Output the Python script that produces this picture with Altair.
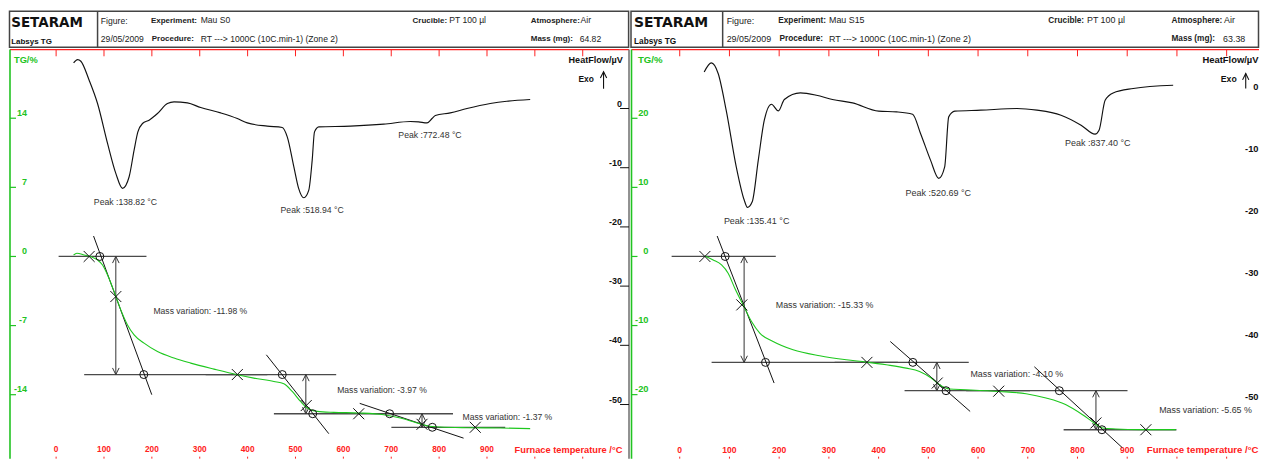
import altair as alt
import pandas as pd

# ---------------- axis tick values ----------------
TEMP_TICKS = [0, 100, 200, 300, 400, 500, 600, 700, 800, 900, 1000, 1100]
TEMP_LABELS = [0, 100, 200, 300, 400, 500, 600, 700, 800, 900]
HF_TICKS = [0, -10, -20, -30, -40, -50]
L_TG_TICKS = [14, 7, 0, -7, -14]
R_TG_TICKS = [20, 10, 0, -10, -20]

# ---------------- left panel : Mau S0 ----------------
L_DSC_T = [36.5, 44.8, 51.7, 69.0, 86.5, 107.4, 124.7, 138.7, 152.5, 162.9, 170.6, 180.4, 194.2,
           211.7, 232.5, 246.3, 274.2, 302.0, 343.7, 378.5, 399.4, 441.1, 472.4, 482.8, 496.6,
           506.4, 517.4, 527.8, 534.9, 539.7, 548.7, 614.8, 684.3, 739.9, 757.2, 774.8, 785.2,
           792.1, 823.4, 858.2, 906.8, 941.6, 990.2]
L_DSC_HF = [7.69, 8.26, 7.98, 4.77, 0.84, -5.90, -10.96, -13.49, -11.53, -7.03, -4.00, -2.53, -1.97,
            -0.84, 0.84, 1.11, 0.94, 0.17, -0.74, -1.69, -2.43, -2.98, -3.20, -4.79, -9.85,
            -13.44, -15.08, -13.78, -8.72, -3.95, -3.10, -2.98, -2.65, -2.19, -2.26, -2.43, -1.69,
            -1.18, -0.74, 0.00, 0.84, 1.23, 1.52]
L_TG_T = [36.5, 43.4, 58.6, 72.6, 86.5, 97.0, 107.4, 121.2, 135.1, 149.1, 162.9, 183.7, 211.7,
          246.3, 281.1, 329.7, 378.5, 413.1, 454.9, 475.7, 493.2, 510.5, 524.5, 545.4, 580.0,
          632.1, 684.3, 719.1, 753.9, 774.8, 802.5, 858.2, 927.6, 990.2]
L_TG_V = [0.15, 0.32, 0.15, -0.02, -0.35, -0.86, -1.87, -3.56, -5.41, -6.93, -7.94, -8.78, -9.63,
          -10.29, -10.80, -11.41, -11.98, -12.32, -12.66, -12.89, -13.67, -14.68, -15.35, -15.69, -15.79,
          -15.85, -16.03, -16.36, -16.87, -17.14, -17.27, -17.34, -17.37, -17.44]
L_BASE_T1 = [5.2, 58.6, 312.4, 454.9, 700.3]
L_BASE_T2 = [188.7, 441.1, 585.0, 829.0, 938.1]
L_BASE_G = [0.0, -11.96, -11.96, -15.93, -17.30]
L_TAN_T1 = [78.2, 439.1, 634.2]
L_TAN_G1 = [2.07, -9.96, -14.88]
L_TAN_T2 = [199.8, 569.6, 851.1]
L_TAN_G2 = [-14.0, -17.95, -18.40]
L_X_T = [69.0, 124.7, 378.5, 522.4, 632.1, 764.3, 875.5]
L_X_G = [0.0, -4.06, -11.96, -15.1, -15.93, -17.0, -17.30]
L_O_T = [91.3, 183.1, 472.4, 536.0, 696.7, 785.8]
L_O_G = [0.0, -11.96, -11.96, -15.93, -15.93, -17.30]
L_ARR_T = [124.7, 521.6, 764.3]
L_ARR_TOP = [0.0, -11.96, -15.93]
L_ARR_BOT = [-11.96, -15.93, -17.30]
L_MV_TEXT = ["Mass variation: -11.98 %", "Mass variation: -3.97 %", "Mass variation: -1.37 %"]
L_MV_T = [203.3, 587.1, 849.0]
L_MV_G = [-5.48, -13.5, -16.3]
L_PK_TEXT = ["Peak :138.82 °C", "Peak :518.94 °C", "Peak :772.48 °C"]
L_PK_T = [78.8, 468.8, 714.9]
L_PK_HF = [-15.75, -17.15, -4.5]

# ---------------- right panel : Mau S15 ----------------
R_DSC_T = [49.2, 63.7, 77.3, 93.4, 113.7, 129.7, 136.1, 145.8, 158.0, 170.1, 184.5, 198.4, 210.4,
           242.6, 274.9, 307.2, 347.6, 400.0, 436.1, 468.3, 484.3, 504.4, 520.9, 532.9, 541.0,
           553.2, 605.6, 678.1, 718.5, 766.9, 807.2, 835.3, 843.4, 855.6, 871.7, 912.1, 992.4]
R_DSC_HF = [3.27, 4.73, 3.02, -2.90, -12.05, -17.42, -18.60, -17.69, -10.97, -4.52, -1.94, -3.02, -1.18,
            -0.11, -0.48, -1.18, -1.73, -3.06, -3.18, -3.55, -6.66, -10.97, -13.92, -12.05, -3.98,
            -3.06, -2.90, -2.63, -2.90, -3.71, -5.32, -6.77, -6.13, -1.29, -0.11, 0.60, 1.13]
R_TG_T = [50.6, 67.3, 84.1, 97.4, 110.8, 127.5, 144.4, 161.0, 187.8, 227.9, 281.5, 335.1, 375.3,
          415.5, 455.6, 482.3, 505.8, 522.5, 542.6, 576.1, 643.0, 696.6, 736.7, 776.9, 810.2,
          833.7, 850.4, 877.3, 924.1, 997.8]
R_TG_V = [0.07, -0.51, -1.23, -2.43, -4.60, -7.01, -9.42, -11.10, -12.31, -13.51, -14.38, -14.96, -15.29,
          -15.68, -16.16, -16.65, -17.60, -18.57, -19.19, -19.29, -19.54, -19.87, -20.49, -21.46, -22.90,
          -24.10, -24.83, -24.97, -25.07, -25.07]
R_BASE_T1 = [-16.3, 64.1, 311.6, 452.2, 576.1, 772.1]
R_BASE_T2 = [193.2, 438.8, 581.3, 704.6, 900.6, 999.0]
R_BASE_G = [0.0, -15.33, -15.33, -19.43, -19.43, -25.08]
R_TAN_T1 = [75.3, 423.5, 713.3]
R_TAN_G1 = [2.96, -12.31, -15.97]
R_TAN_T2 = [189.8, 584.1, 890.0]
R_TAN_G2 = [-18.32, -22.43, -27.67]
R_X_T = [50.6, 124.9, 376.5, 517.9, 641.6, 837.1, 937.5]
R_X_G = [0.0, -7.01, -15.33, -18.32, -19.5, -24.1, -25.08]
R_O_T = [91.4, 172.5, 468.9, 535.6, 763.5, 849.2]
R_O_G = [0.0, -15.33, -15.33, -19.43, -19.43, -25.08]
R_ARR_T = [129.5, 517.1, 837.1]
R_ARR_TOP = [0.0, -15.33, -19.43]
R_ARR_BOT = [-15.33, -19.43, -25.08]
R_MV_TEXT = ["Mass variation: -15.33 %", "Mass variation: -4.10 %", "Mass variation: -5.65 %"]
R_MV_T = [193.2, 584.7, 964.3]
R_MV_G = [-7.01, -16.98, -22.18]
R_PK_TEXT = ["Peak :135.41 °C", "Peak :520.69 °C", "Peak :837.40 °C"]
R_PK_T = [88.8, 454.2, 774.9]
R_PK_HF = [-20.76, -16.24, -8.18]

FONT = "Liberation Sans"
GREEN = "#22c322"
CURVE_GREEN = "#1ec81e"
RED = "#ff2020"
UP = "M-1,2L0,0L1,2"
DOWN = "M-1,-2L0,0L1,-2"
XSHAPE = "M-1,-1L1,1M-1,1L1,-1"
H = 451


def one():
    return pd.DataFrame({"d": [0]})


def txt(s, x, y, size=8.7, bold=False, color="#222222", align="left", font=FONT):
    return alt.Chart(one()).mark_text(
        text=s, align=align, baseline="middle", fontSize=size,
        fontWeight="bold" if bold else "normal", font=font, color=color
    ).encode(x=alt.value(x), y=alt.value(y))


def vline(x, y1, y2, color, w=1.0):
    return alt.Chart(one()).mark_rule(color=color, strokeWidth=w).encode(
        x=alt.value(x), y=alt.value(y1), y2=alt.value(y2))


def hline(x1, x2, y, color, w=1.0):
    return alt.Chart(one()).mark_rule(color=color, strokeWidth=w).encode(
        x=alt.value(x1), x2=alt.value(x2), y=alt.value(y))


def panel(P):
    W = P["W"]
    k = P["k"]
    xs = alt.Scale(domain=P["xdom"], zero=False, nice=False)
    tgs = alt.Scale(domain=P["tgdom"], zero=False, nice=False)
    hfs = alt.Scale(domain=P["hfdom"], zero=False, nice=False)

    def X(f="T"):
        return alt.X(f + ":Q", scale=xs, axis=None)

    def YT(f="G"):
        return alt.Y(f + ":Q", scale=tgs, axis=None)

    L = []
    # ---- header ----
    bx = P["box"]
    L.append(alt.Chart(one()).mark_rect(fillOpacity=0, stroke="#444444", strokeWidth=1.5).encode(
        x=alt.value(bx[0]), x2=alt.value(bx[1]), y=alt.value(bx[2]), y2=alt.value(bx[3])))
    L.append(vline(P["div"], bx[2], bx[3], "#444444", 1.5))
    L.append(txt("SETARAM", P["hx"][0], 14.5, size=13.5 * k, bold=True, color="#111111", font="DejaVu Sans"))
    L.append(txt("Labsys TG", P["hx"][0], 33.5, size=8.0 * k, bold=True, color="#111111"))
    for s, x, y, b in P["htexts"]:
        L.append(txt(s, x, y, size=(8.0 if b else 8.6) * k, bold=b))

    # ---- frame / axes ----
    fr = P["frame"]
    L.append(hline(fr[0], fr[1], 41.3, RED, 1.2))
    tdf = pd.DataFrame({"T": P["ticks"]})
    L.append(alt.Chart(tdf).mark_rule(color=RED, strokeWidth=1).encode(
        x=X(), y=alt.value(41.3), y2=alt.value(48)))
    L.append(alt.Chart(tdf).mark_rule(color=RED, strokeWidth=1).encode(
        x=X(), y=alt.value(449), y2=alt.value(451)))
    ldf = pd.DataFrame({"T": TEMP_LABELS, "lab": [str(v) for v in TEMP_LABELS]})
    L.append(alt.Chart(ldf).mark_text(color=RED, fontWeight="bold", fontSize=8.3 * k, font=FONT,
                                      baseline="middle").encode(x=X(), y=alt.value(442), text="lab:N"))
    L.append(txt("Furnace temperature /°C", P["furn"], 442, size=9.3 * k, bold=True, color=RED, align="right"))

    # TG axis (green, left)
    L.append(vline(P["gx"], 41.3, H, GREEN, 1.6))
    gdf = pd.DataFrame({"G": P["tgticks"], "lab": [str(v) for v in P["tgticks"]]})
    L.append(alt.Chart(gdf).mark_rule(color=GREEN, strokeWidth=1.2).encode(
        y=YT(), x=alt.value(P["gx"]), x2=alt.value(P["gx"] + 6)))
    L.append(alt.Chart(gdf).mark_text(color=GREEN, fontWeight="bold", fontSize=9 * k, font=FONT,
                                      align="right", baseline="middle", dy=-5.5).encode(
        y=YT(), x=alt.value(P["tglab"]), text="lab:N"))
    L.append(txt("TG/%", P["tgtitle"], 52, size=9.3 * k, bold=True, color=GREEN))

    # heat-flow axis (right)
    if P["hfaxis"] is not None:
        L.append(vline(P["hfaxis"], 41.3, H, "#777777", 1.6))
    hdf = pd.DataFrame({"HF": HF_TICKS, "lab": [str(v) for v in HF_TICKS]})
    if P["hftick"] is not None:
        L.append(alt.Chart(hdf).mark_rule(color="#111111", strokeWidth=1).encode(
            y=alt.Y("HF:Q", scale=hfs, axis=None), x=alt.value(P["hftick"][0]), x2=alt.value(P["hftick"][1])))
    L.append(alt.Chart(hdf).mark_text(color="#111111", fontWeight="bold", fontSize=9 * k, font=FONT,
                                      align="right", baseline="middle", dy=-5).encode(
        y=alt.Y("HF:Q", scale=hfs, axis=None), x=alt.value(P["hflab"]), text="lab:N"))
    L.append(txt("HeatFlow/µV", P["hftitle"], 52, size=9.1 * k, bold=True, color="#111111", align="right"))
    L.append(txt("Exo", P["exo"], 71, size=8.4 * k, bold=True, color="#111111"))
    ax, ay1, ay2 = P["exoarrow"]
    L.append(vline(ax, ay1, ay2, "#111111", 1.1))
    L.append(alt.Chart(one()).mark_point(shape=UP, filled=False, size=40, color="#111111", strokeWidth=1.1,
                                         opacity=1).encode(x=alt.value(ax), y=alt.value(ay1)))

    # ---- DSC curve ----
    dsc = pd.DataFrame({"T": P["dsc_t"], "HF": P["dsc_hf"]})
    L.append(alt.Chart(dsc).mark_line(color="#111111", strokeWidth=1.15, interpolate="monotone").encode(
        x=X(), y=alt.Y("HF:Q", scale=hfs, axis=None)))
    pk = pd.DataFrame({"T": P["pk_t"], "HF": P["pk_hf"], "s": P["pk_text"]})
    L.append(alt.Chart(pk).mark_text(align="left", baseline="middle", fontSize=8.7 * k, font=FONT,
                                     color="#333333").encode(
        x=X(), y=alt.Y("HF:Q", scale=hfs, axis=None), text="s:N"))

    # ---- TG construction ----
    base = pd.DataFrame({"T": P["base_t1"], "T2": P["base_t2"], "G": P["base_g"]})
    L.append(alt.Chart(base).mark_rule(color="#4a4a4a", strokeWidth=1.3).encode(
        x=X(), x2="T2:Q", y=YT()))
    tan = pd.DataFrame({"T": P["tan_t1"], "G": P["tan_g1"], "T2": P["tan_t2"], "G2": P["tan_g2"]})
    L.append(alt.Chart(tan).mark_rule(color="#111111", strokeWidth=1).encode(
        x=X(), y=YT(), x2="T2:Q", y2="G2:Q"))
    arr = pd.DataFrame({"T": P["arr_t"], "G": P["arr_top"], "G2": P["arr_bot"]})
    L.append(alt.Chart(arr).mark_rule(color="#333333", strokeWidth=1).encode(
        x=X(), y=YT(), y2="G2:Q"))
    L.append(alt.Chart(arr).mark_point(shape=UP, filled=False, size=44, color="#333333", strokeWidth=1,
                                       opacity=1).encode(x=X(), y=YT()))
    L.append(alt.Chart(arr).mark_point(shape=DOWN, filled=False, size=44, color="#333333", strokeWidth=1,
                                       opacity=1).encode(x=X(), y=YT("G2")))
    # green TG curve
    tg = pd.DataFrame({"T": P["tg_t"], "G": P["tg_v"]})
    L.append(alt.Chart(tg).mark_line(color=CURVE_GREEN, strokeWidth=1.1, interpolate="monotone").encode(
        x=X(), y=YT()))
    xm = pd.DataFrame({"T": P["x_t"], "G": P["x_g"]})
    L.append(alt.Chart(xm).mark_point(shape=XSHAPE, filled=False, size=121, color="#111111", strokeWidth=1,
                                      opacity=1).encode(x=X(), y=YT()))
    om = pd.DataFrame({"T": P["o_t"], "G": P["o_g"]})
    L.append(alt.Chart(om).mark_point(shape="circle", filled=False, size=64, color="#111111", strokeWidth=1,
                                      opacity=1).encode(x=X(), y=YT()))
    mv = pd.DataFrame({"T": P["mv_t"], "G": P["mv_g"], "s": P["mv_text"]})
    L.append(alt.Chart(mv).mark_text(align="left", baseline="middle", fontSize=8.6 * k, font=FONT,
                                     color="#333333").encode(x=X(), y=YT(), text="s:N"))

    return alt.layer(*L).resolve_scale(y="independent").properties(width=W, height=H)


LEFT = dict(
    W=622, k=1.0,
    xdom=[-98.44, 1198.75], tgdom=[-20.476, 25.126], hfdom=[-59.140, 16.914],
    ticks=TEMP_TICKS,
    box=[0.5, 620.6, 3, 39], div=88.7, hx=[2.2],
    htexts=[("Figure:", 92, 12.5, False), ("Experiment:", 142.2, 12.5, True), ("Mau S0", 192, 11.5, False),
            ("Crucible:", 404.2, 12.5, True), ("PT 100 µl", 441, 11.5, False),
            ("Atmosphere:", 522.6, 12.5, True), ("Air", 572.5, 11.5, False),
            ("29/05/2009", 92, 30.3, False), ("Procedure:", 143, 30.3, True),
            ("RT ---> 1000C (10C.min-1) (Zone 2)", 192, 30.3, False),
            ("Mass (mg):", 522.6, 30.3, True), ("64.82", 571.6, 30.3, False)],
    frame=[1, 621], furn=614.3,
    gx=1, tgticks=L_TG_TICKS, tglab=18, tgtitle=5,
    hfaxis=621, hftick=[612, 621], hflab=614, hftitle=614.7,
    exo=570.3, exoarrow=(595.5, 63.5, 80.5),
    dsc_t=L_DSC_T, dsc_hf=L_DSC_HF, pk_t=L_PK_T, pk_hf=L_PK_HF, pk_text=L_PK_TEXT,
    tg_t=L_TG_T, tg_v=L_TG_V,
    base_t1=L_BASE_T1, base_t2=L_BASE_T2, base_g=L_BASE_G,
    tan_t1=L_TAN_T1, tan_g1=L_TAN_G1, tan_t2=L_TAN_T2, tan_g2=L_TAN_G2,
    x_t=L_X_T, x_g=L_X_G, o_t=L_O_T, o_g=L_O_G,
    arr_t=L_ARR_T, arr_top=L_ARR_TOP, arr_bot=L_ARR_BOT,
    mv_t=L_MV_T, mv_g=L_MV_G, mv_text=L_MV_TEXT,
)

RIGHT = dict(
    W=630, k=1.035,
    xdom=[-100.0, 1165.06], tgdom=[-29.263, 35.91], hfdom=[-59.194, 13.548],
    ticks=TEMP_TICKS,
    box=[1, 629.5, 3, 39], div=92.8, hx=[4],
    htexts=[("Figure:", 96.8, 12.5, False), ("Experiment:", 148.5, 12.5, True), ("Mau S15", 199.3, 11.5, False),
            ("Crucible:", 419, 12.5, True), ("PT 100 µl", 457.7, 11.5, False),
            ("Atmosphere:", 542.3, 12.5, True), ("Air", 595, 11.5, False),
            ("29/05/2009", 96.8, 30.3, False), ("Procedure:", 149.7, 30.3, True),
            ("RT ---> 1000C (10C.min-1) (Zone 2)", 199.3, 30.3, False),
            ("Mass (mg):", 542.3, 30.3, True), ("63.38", 594, 30.3, False)],
    frame=[1.5, 630], furn=629.5,
    gx=1.5, tgticks=R_TG_TICKS, tglab=18.5, tgtitle=8,
    hfaxis=None, hftick=None, hflab=629.5, hftitle=629.5,
    exo=591.7, exoarrow=(616.7, 65.3, 80.3),
    dsc_t=R_DSC_T, dsc_hf=R_DSC_HF, pk_t=R_PK_T, pk_hf=R_PK_HF, pk_text=R_PK_TEXT,
    tg_t=R_TG_T, tg_v=R_TG_V,
    base_t1=R_BASE_T1, base_t2=R_BASE_T2, base_g=R_BASE_G,
    tan_t1=R_TAN_T1, tan_g1=R_TAN_G1, tan_t2=R_TAN_T2, tan_g2=R_TAN_G2,
    x_t=R_X_T, x_g=R_X_G, o_t=R_O_T, o_g=R_O_G,
    arr_t=R_ARR_T, arr_top=R_ARR_TOP, arr_bot=R_ARR_BOT,
    mv_t=R_MV_T, mv_g=R_MV_G, mv_text=R_MV_TEXT,
)

chart = alt.hconcat(panel(LEFT), panel(RIGHT), spacing=0, padding=0).configure_view(stroke=None)
chart.save("out.html", embed_options={"renderer": "svg", "actions": False})
